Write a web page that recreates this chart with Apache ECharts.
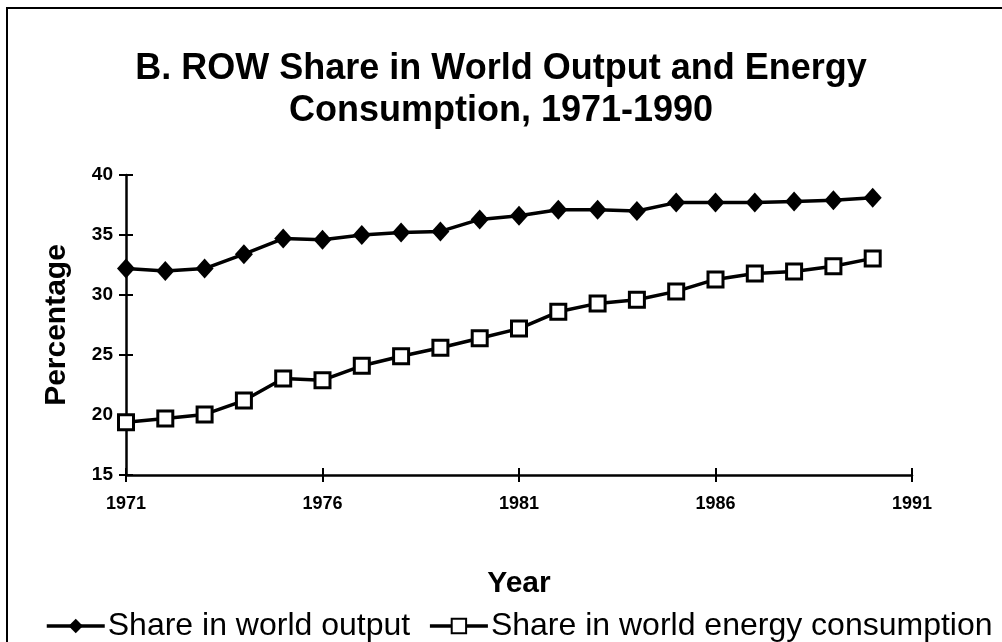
<!DOCTYPE html>
<html>
<head>
<meta charset="utf-8">
<title>ROW Share in World Output and Energy Consumption</title>
<script src="https://cdn.jsdelivr.net/npm/echarts@6/dist/echarts.min.js"></script>
<style>
  html, body { margin: 0; padding: 0; background: #fff; }
  #chart { width: 1002px; height: 642px; }
</style>
</head>
<body>
<div id="chart"></div>
<script>
// x axis runs 1971..1991, labels every 5 years
const years = ['1971', '1972', '1973', '1974', '1975', '1976', '1977', '1978', '1979', '1980',
  '1981', '1982', '1983', '1984', '1985', '1986', '1987', '1988', '1989', '1990', '1991']
// (percent)
const outputShare = [32.2, 32.0, 32.2, 33.4, 34.7, 34.6, 35.0, 35.2, 35.3, 36.3,
  36.6, 37.1, 37.1, 37.0, 37.7, 37.7, 37.7, 37.8, 37.9, 38.1]
const energyShare = [19.4, 19.7, 20.05, 21.2, 23.05, 22.9, 24.1, 24.9, 25.6, 26.4,
  27.2, 28.6, 29.3, 29.6, 30.3, 31.3, 31.8, 31.95, 32.4, 33.05]
const seriesNames = ['Share in world output', 'Share in world energy consumption']

const font = '"Liberation Sans", Arial, sans-serif'
const chart = echarts.init(document.getElementById('chart'))

const option = {
  backgroundColor: '#fff',
  animation: false,
  title: {
    text: 'B. ROW Share in World Output and Energy\nConsumption, 1971-1990',
    left: 'center',
    top: 43,
    textStyle: {
      fontFamily: font,
      fontWeight: 'bold',
      fontSize: 36,
      lineHeight: 42,
      color: '#000'
    }
  },
  // 图例
  legend: {
    data: seriesNames,
    left: 40,
    top: 605,
    itemWidth: 58,
    itemHeight: 18,
    itemGap: 18,
    lineStyle: { width: 3.5 },
    textStyle: {
      fontFamily: font,
      fontSize: 32,
      color: '#000',
      padding: [0, 0, 0, -2]
    }
  },
  grid: {
    left: 126,
    right: 90,
    top: 175,
    bottom: 167
  },
  xAxis: [
    {
      type: 'category',
      data: years,
      boundaryGap: false,
      name: 'Year',
      nameLocation: 'middle',
      nameGap: 94,
      nameTextStyle: { fontFamily: font, fontWeight: 'bold', fontSize: 30, color: '#000' },
      axisLine: { lineStyle: { color: '#000', width: 2.5 } },
      axisTick: { interval: 4, length: 7, lineStyle: { color: '#000', width: 2 } },
      axisLabel: {
        interval: 4,
        margin: 20,
        fontFamily: font,
        fontWeight: 'bold',
        fontSize: 18,
        color: '#000'
      },
      splitLine: { show: false }
    },
    {
      // inner half of the crossing ticks
      type: 'category',
      data: years,
      boundaryGap: false,
      position: 'bottom',
      axisLine: { show: false },
      axisTick: { interval: 4, inside: true, length: 7, lineStyle: { color: '#000', width: 2 } },
      axisLabel: { show: false },
      splitLine: { show: false }
    }
  ],
  yAxis: [
    {
      type: 'value',
      min: 15,
      max: 40,
      interval: 5,
      name: 'Percentage',
      nameLocation: 'middle',
      nameGap: 54,
      nameTextStyle: { fontFamily: font, fontWeight: 'bold', fontSize: 30, color: '#000' },
      axisLine: { show: true, lineStyle: { color: '#000', width: 2.5 } },
      axisTick: { show: true, length: 7, lineStyle: { color: '#000', width: 2 } },
      axisLabel: {
        margin: 13,
        fontFamily: font,
        fontWeight: 'bold',
        fontSize: 19,
        color: '#000'
      },
      splitLine: { show: false }
    },
    {
      type: 'value',
      min: 15,
      max: 40,
      interval: 5,
      position: 'left',
      axisLine: { show: false },
      axisTick: { show: true, inside: true, length: 7, lineStyle: { color: '#000', width: 2 } },
      axisLabel: { show: false },
      splitLine: { show: false }
    }
  ],
  series: [
    {
      name: seriesNames[0],
      type: 'line',
      data: outputShare,
      symbol: 'diamond',
      symbolSize: [18, 20],
      itemStyle: { color: '#000' },
      lineStyle: { color: '#000', width: 3.5 }
    },
    {
      name: seriesNames[1],
      type: 'line',
      data: energyShare,
      symbol: 'rect',
      symbolSize: 15,
      itemStyle: { color: '#fff', borderColor: '#000', borderWidth: 3 },
      lineStyle: { color: '#000', width: 3.5 }
    }
  ],
  // 外框 (left and top edge only, like the scan)
  graphic: [
    { type: 'line', shape: { x1: 7, y1: 8, x2: 7, y2: 642 }, style: { stroke: '#000', lineWidth: 2 } },
    { type: 'line', shape: { x1: 6, y1: 8, x2: 1002, y2: 8 }, style: { stroke: '#000', lineWidth: 2 } }
  ]
}

chart.setOption(option)
</script>
</body>
</html>
